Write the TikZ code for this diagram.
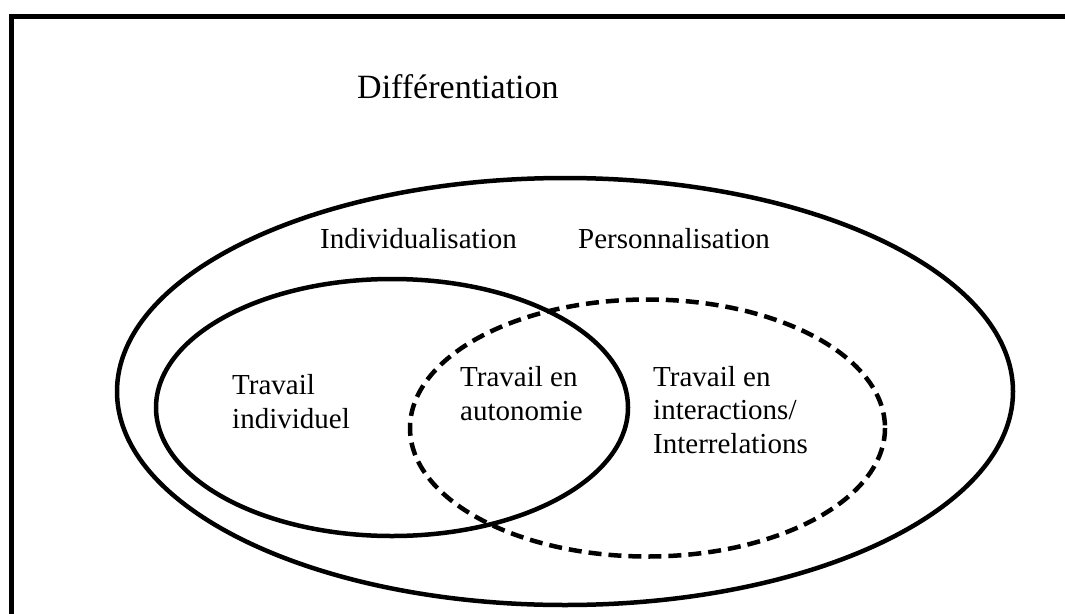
\documentclass[tikz,border=0pt]{standalone}
\usepackage{fontspec}
\setmainfont{Liberation Serif}
\begin{document}
\begin{tikzpicture}[x=1pt,y=-1pt,
  rim/.style={line width=5pt},
  setline/.style={line width=4.5pt},
  dashline/.style={line width=4.5pt, dash pattern=on 13pt off 7pt},
  lbl/.style={inner sep=0pt, anchor=base west, align=left,
    font=\fontsize{29}{33.5}\selectfont},
  title/.style={lbl, font=\fontsize{34}{40}\selectfont}]
  \useasboundingbox (0,0) rectangle (1065,613);
  \clip (0,0) rectangle (1065,613);
  % frame (open towards right and bottom)
  \draw[rim] (1080,16) -- (11.5,16) -- (11.5,630);
  % sets
  \draw[setline] (565,391.5) ellipse [x radius=448, y radius=213.5];
  \draw[setline] (392,407.5) ellipse [x radius=236, y radius=128.5];
  \draw[dashline] (647.5,428) ellipse [x radius=237.5, y radius=128.5];
  % labels (anchored on the baseline of their last line)
  \node[title] (diff) at (357,98) {Différentiation};
  \node[lbl] (indiv) at (320,248) {Individualisation};
  \node[lbl] (perso) at (578,248) {Personnalisation};
  \node[lbl] (ti) at (232,428) {Travail\\individuel};
  \node[lbl] (ta) at (460,420) {Travail en\\autonomie};
  \node[lbl] (tint) at (653,453) {Travail en\\interactions/\\Interrelations};
\end{tikzpicture}
\end{document}
